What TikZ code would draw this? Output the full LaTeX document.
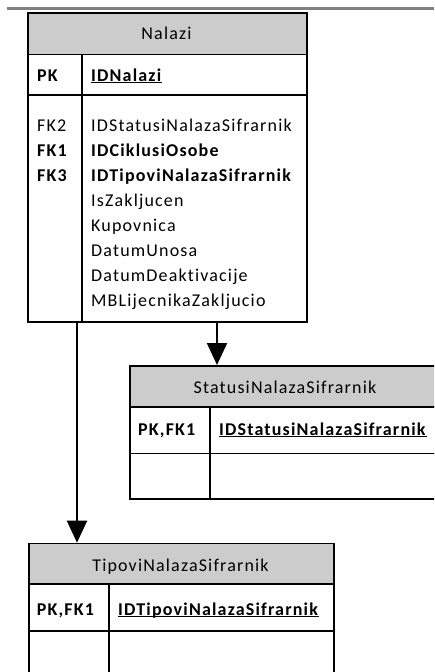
\documentclass[tikz,border=0pt]{standalone}
\usepackage{fontspec}
\setmainfont{Carlito}[LetterSpace=6.5,Ligatures=NoCommon]
\usetikzlibrary{arrows.meta}
\newcommand{\ulx}[1]{\setbox0\hbox{#1}\rlap{\rule[-2.2pt]{\wd0}{1.2pt}}\box0}
\tikzset{
  cell/.style={draw=black, line width=1.6pt, anchor=north west, inner sep=0pt},
  hdr/.style={cell, fill=gray!40},
  txt/.style={anchor=base west, inner sep=0pt, font=\fontsize{18}{22}\selectfont},
  htxt/.style={anchor=base, inner sep=0pt, font=\fontsize{18}{22}\selectfont},
  arr/.style={line width=2pt, -{Triangle[width=20pt,length=22pt]}},
  divline/.style={line width=1.6pt}
}
\begin{document}
\begin{tikzpicture}[x=1pt,y=-1pt]
\useasboundingbox (0,0) rectangle (434,672);
\clip (0,0) rectangle (434,672);
% top gray rule
\draw[gray, line width=2.6pt] (7,8.7) -- (434,8.7);

% ---- Nalazi ----
\node[hdr, minimum width=279pt, minimum height=41.5pt] (nalaziH) at (27,12) {};
\node[htxt] (nalaziT) at (166.5,39) {Nalazi};
\node[cell, minimum width=279pt, minimum height=40.5pt] (nalaziP) at (27,53.5) {};
\node[cell, minimum width=279pt, minimum height=227pt] (nalaziB) at (27,94) {};
\draw[divline] (82,53.5) -- (82,321);
\node[txt] (nk0) at (37,81) {\textbf{PK}};
\node[txt] (na0) at (91,81) {\ulx{\textbf{IDNalazi}}};
\node[txt] (nk1) at (37,131.5) {FK2};
\node[txt] (na1) at (91,131.5) {IDStatusiNalazaSifrarnik};
\node[txt] (nk2) at (37,156.5) {\textbf{FK1}};
\node[txt] (na2) at (91,156.5) {\textbf{IDCiklusiOsobe}};
\node[txt] (nk3) at (37,181.5) {\textbf{FK3}};
\node[txt] (na3) at (91,181.5) {\textbf{IDTipoviNalazaSifrarnik}};
\node[txt] (na4) at (91,206.5) {IsZakljucen};
\node[txt] (na5) at (91,231.5) {Kupovnica};
\node[txt] (na6) at (91,256.5) {DatumUnosa};
\node[txt] (na7) at (91,281.5) {DatumDeaktivacije};
\node[txt] (na8) at (91,306.5) {MBLijecnikaZakljucio};

% ---- StatusiNalazaSifrarnik ----
\node[hdr, minimum width=312pt, minimum height=41pt] (statusH) at (129,365) {};
\node[htxt] (statusT) at (285,393) {StatusiNalazaSifrarnik};
\node[cell, minimum width=312pt, minimum height=46.7pt] (statusP) at (129,406) {};
\node[cell, minimum width=312pt, minimum height=45.3pt] (statusB) at (129,452.7) {};
\draw[divline] (210,406) -- (210,498);
\node[txt] (sk0) at (138,435) {\textbf{PK,FK1}};
\node[txt] (sa0) at (219,435) {\ulx{\textbf{IDStatusiNalazaSifrarnik}}};

% ---- TipoviNalazaSifrarnik ----
\node[hdr, minimum width=305pt, minimum height=40.3pt] (tipoviH) at (28,542.7) {};
\node[htxt] (tipoviT) at (180.5,571) {TipoviNalazaSifrarnik};
\node[cell, minimum width=305pt, minimum height=47pt] (tipoviP) at (28,583) {};
\node[cell, minimum width=305pt, minimum height=50pt] (tipoviB) at (28,630) {};
\draw[divline] (109,583) -- (109,680);
\node[txt] (tk0) at (36.7,615) {\textbf{PK,FK1}};
\node[txt] (ta0) at (118,615) {\ulx{\textbf{IDTipoviNalazaSifrarnik}}};

% ---- connectors ----
\coordinate (xs) at (217,0);
\coordinate (xt) at (77,0);
\draw[arr] (nalaziB.south -| xs) -- (statusH.north -| xs);
\draw[arr] (nalaziB.south -| xt) -- (tipoviH.north -| xt);
\end{tikzpicture}
\end{document}
